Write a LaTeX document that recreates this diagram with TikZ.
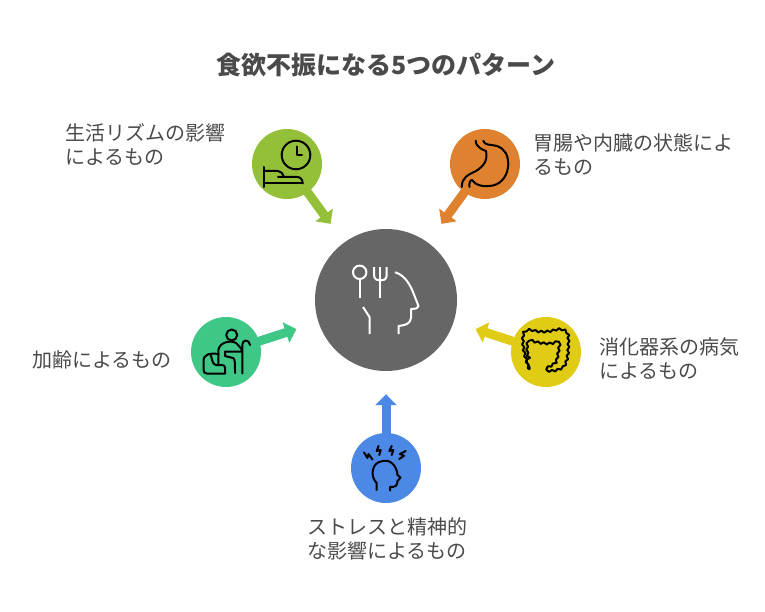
\documentclass[tikz,border=0pt]{standalone}
\usepackage{fontspec}
\setmainfont{Noto Sans CJK JP}
\usetikzlibrary{arrows.meta,decorations.pathmorphing}
\definecolor{cGreen}{HTML}{93BF39}
\definecolor{cOrange}{HTML}{DF8230}
\definecolor{cHub}{HTML}{666666}
\definecolor{cMint}{HTML}{3EC787}
\definecolor{cYellow}{HTML}{E0CB15}
\definecolor{cBlue}{HTML}{4C88E6}
\definecolor{cText}{HTML}{4A4A4A}
\tikzset{
  disc/.style={circle,inner sep=0pt,minimum size=70pt},
  hubdisc/.style={circle,inner sep=0pt,minimum size=142pt,fill=cHub},
  link/.style={line width=9pt,shorten >=23pt,-{Triangle[length=11pt,width=21pt]}},
  lab/.style={anchor=west,inner sep=0pt,align=left,text=cText,font=\fontsize{20}{24}\selectfont},
  ttl/.style={inner sep=0pt,text=cText,font=\fontsize{25}{28}\selectfont\bfseries},
  ico/.style={draw=black,line width=2pt,line cap=round,line join=round},
  wico/.style={draw=white,line width=2pt,line join=round}
}
\begin{document}
\begin{tikzpicture}[x=1pt,y=-1pt]
\useasboundingbox (0,0) rectangle (765,612);
\node[ttl] (title) at (386,65) {食欲不振になる5つのパターン};
\node[hubdisc] (hub) at (386,300) {};
\node[disc] (n1) at (287,164) {};
\node[disc] (n2) at (485,164) {};
\node[disc] (n3) at (226,352) {};
\node[disc] (n4) at (546,352) {};
\node[disc] (n5) at (386,468) {};
\draw[link,cGreen] (n1.center) -- (hub);
\draw[link,cOrange] (n2.center) -- (hub);
\draw[link,cMint] (n3.center) -- (hub);
\draw[link,cYellow] (n4.center) -- (hub);
\draw[link,cBlue] (n5.center) -- (hub);
\fill[cGreen] (n1.center) circle[radius=35pt];
\fill[cOrange] (n2.center) circle[radius=35pt];
\fill[cMint] (n3.center) circle[radius=35pt];
\fill[cYellow] (n4.center) circle[radius=35pt];
\fill[cBlue] (n5.center) circle[radius=35pt];
% labels
\node[lab] (l1) at (65,144) {生活リズムの影響\\によるもの};
\node[lab] (l2) at (533,155) {胃腸や内臓の状態によ\\るもの};
\node[lab] (l3) at (32,360) {加齢によるもの};
\node[lab] (l4) at (599,359) {消化器系の病気\\によるもの};
\node[lab] (l5) at (307,539) {ストレスと精神的\\な影響によるもの};
% hub icon
\begin{scope}[wico]
\draw (359.7,272.3) circle[radius=6.7pt];
\draw (359.7,279) -- (359.7,298.3);
\draw (380.3,267) -- (380.3,298.3);
\draw (374,267) -- (374,275) .. controls (374,280) and (378,280.5) .. (380.3,280.5) .. controls (383,280.5) and (386.7,280) .. (386.7,275) -- (386.7,267);
\draw (395,272.3) .. controls (405,275) and (410,285) .. (413,292) -- (418.5,306) .. controls (418.5,308) and (416,309) .. (411,309) -- (411,318) .. controls (410,324) and (406,325) .. (398.5,326) -- (398.5,334);
\draw (363,307) -- (369.5,317) -- (369.7,334);
\end{scope}
% clock and bed
\begin{scope}[ico]
\draw (296,155) circle[radius=14.3pt];
\draw (297,146.5) -- (297,155) -- (302,155);
\draw (264.3,167) -- (264.3,187);
\draw (264.3,183.5) -- (302.7,183.5);
\draw (264.3,171) -- (278,171) .. controls (281,171) and (283,174) .. (284,176.8);
\draw (278,176.8) -- (296,176.8) .. controls (300,176.8) and (302.7,179) .. (302.7,183.5);
\end{scope}
% stomach
\begin{scope}[ico]
\draw (475.7,140.7) .. controls (476,148) and (484,150) .. (486,151) .. controls (488,160) and (484,166) .. (476,171) .. controls (468,175) and (462,177) .. (461.7,187);
\draw (483.3,140.7) .. controls (485,146) and (490,144) .. (497,146) .. controls (505,149) and (508,155) .. (508.3,164) .. controls (508,174) and (503,183) .. (493,185.5) .. controls (484,187) and (476,186) .. (472,180) .. controls (470,180) and (469,183) .. (469.5,187);
\end{scope}
% elder
\begin{scope}[ico]
\draw (231.7,335) circle[radius=5.5pt];
\draw (218.7,354) .. controls (210,353) and (203.5,354) .. (203.5,361) -- (203.5,370) .. controls (203.5,372.5) and (205,373.5) .. (207,373.5) -- (225,373.5);
\draw (210.5,354) .. controls (212,358) and (212,364.5) .. (216,365) -- (222,365) .. controls (226,365) and (225,369) .. (225,373.5);
\draw (218.3,364.5) -- (218.3,352) .. controls (218.3,345) and (223,343) .. (227,342) .. controls (232,341) and (236,342) .. (238,345) -- (241.5,349) -- (241.5,351.7) -- (225,351.7) -- (225,356) -- (233,358) .. controls (235,359) and (235,362) .. (235,373);
\draw (242.3,373.5) -- (242.3,345) .. controls (242.3,340) and (248,338) .. (250,345);
\end{scope}
% intestine
\draw[ico,line width=2pt,decorate,decoration={snake,amplitude=1pt,segment length=6pt}]
 (529.3,369.3) .. controls (524,355) and (523,345) .. (523.5,338) .. controls (524,331) and (528,331) .. (533,331.5) .. controls (540,334) and (550,333) .. (556,331) .. controls (564,329) and (568,333) .. (568.5,337) .. controls (569,352) and (568,365) .. (563,369) .. controls (558,372) and (552,373) .. (547,372) -- (547,370) .. controls (552,367) and (556,366) .. (557,362) .. controls (559,352) and (560,345) .. (560,343) .. controls (555,346) and (545,346) .. (533,342) .. controls (531,350) and (532,358) .. (534,361) -- (529.3,369.3);
% stressed head
\begin{scope}[ico]
\draw (376.7,490) -- (376.7,483) .. controls (370,477) and (371,462) .. (383,461) .. controls (392,459) and (397,468) .. (397.5,475) -- (400.5,477.5) -- (397.5,481) .. controls (397,486) and (396,487) .. (390,487) -- (390,490.5);
\draw (364,452.5) -- (367.5,458) -- (368.5,454) -- (372.5,459.5);
\draw (378.5,446) -- (376.7,451) -- (380.7,450) -- (379.3,455);
\draw (391.7,446) -- (389.3,451) -- (393.3,450) -- (391.7,455);
\draw (405.7,451) -- (400,454) -- (404,455.7) -- (399.3,459);
\end{scope}
\end{tikzpicture}
\end{document}
